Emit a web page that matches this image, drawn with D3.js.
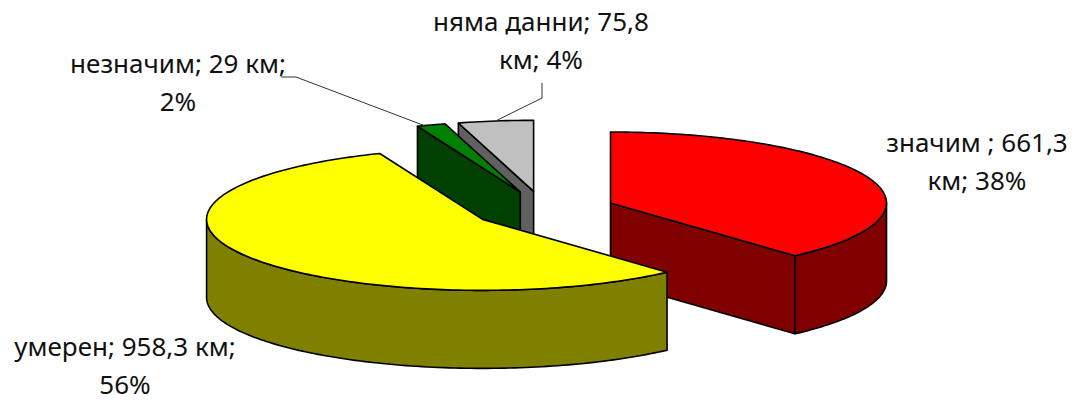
<!DOCTYPE html>
<html>
<head>
<meta charset="utf-8">
<script src="https://cdn.jsdelivr.net/npm/d3@7"></script>
<style>
  body { margin: 0; background: #fff; }
  .lbl { font-family: "Noto Sans", sans-serif; font-size: 26px; fill: #111; }
</style>
</head>
<body>
<div id="chart"></div>
<script>

// data
const categories = ["значим", "умерен", "незначим", "няма данни"];
const lengthsKm = [661.3, 958.3, 29, 75.8];
const labelLine1 = ["значим ; 661,3", "умерен; 958,3 км;", "незначим; 29 км;", "няма данни; 75,8"];
const labelLine2 = ["км; 38%", "56%", "2%", "км; 4%"];
const topColors = ["#ff0000", "#ffff00", "#008000", "#c0c0c0"];
const sideColors = ["#800000", "#808000", "#004000", "#606060"];

const width = 1076;
const height = 403;

const svg = d3.select("#chart")
  .append("svg")
  .attr("width", width)
  .attr("height", height);

/* pie geometry (tilted, exploded 3d pie) */
const center = {x: 543.5, y: 209.6};
const rx = 276, ry = 71, depth = 78, explode = 0.26;

const ex = d3.scaleLinear().domain([-1, 1]).range([-rx, rx]);
const ey = d3.scaleLinear().domain([-1, 1]).range([-ry, ry]);

const pie = d3.pie().sort(null).value(d => d);
const arcs = pie(lengthsKm);

function pt(c, a, dy) {
  return [c.x + ex(Math.sin(a)), c.y + ey(-Math.cos(a)) + (dy || 0)];
}
function arcPts(c, a0, a1, dy) {
  const n = Math.max(2, Math.ceil(Math.abs(a1 - a0) / 0.02));
  return d3.range(n + 1).map(k => pt(c, a0 + (a1 - a0) * k / n, dy));
}

const poly = d3.line().curve(d3.curveLinearClosed);

const slices = arcs.map((d, i) => {
  const mid = (d.startAngle + d.endAngle) / 2;
  const c = {
    x: center.x + explode * ex(Math.sin(mid)),
    y: center.y + explode * ey(-Math.cos(mid))
  };
  return {i: i, a0: d.startAngle, a1: d.endAngle, mid: mid, c: c};
});

// back slices first
const order = slices.slice().sort((a, b) => a.c.y - b.c.y);

order.forEach(s => {
  const g = svg.append("g");
  const c = s.c;
  const cb = [c.x, c.y + depth];
  const faces = [];

  if (Math.sin(s.a0) < -1e-6) {
    faces.push([[c.x, c.y], pt(c, s.a0), pt(c, s.a0, depth), cb]);
  }
  if (Math.sin(s.a1) > 1e-6) {
    faces.push([[c.x, c.y], pt(c, s.a1), pt(c, s.a1, depth), cb]);
  }
  const lo = Math.max(s.a0, Math.PI / 2);
  const hi = Math.min(s.a1, Math.PI * 1.5);
  if (hi > lo) {
    faces.push(arcPts(c, lo, hi, 0).concat(arcPts(c, hi, lo, depth)));
  }

  g.selectAll("path.side")
    .data(faces)
    .enter()
    .append("path")
    .attr("class", "side")
    .attr("d", poly)
    .attr("fill", sideColors[s.i])
    .attr("stroke", "#000")
    .attr("stroke-width", 1.6)
    .attr("stroke-linejoin", "round");

  g.append("path")
    .attr("d", poly([[c.x, c.y]].concat(arcPts(c, s.a0, s.a1, 0))))
    .attr("fill", topColors[s.i])
    .attr("stroke", "#000")
    .attr("stroke-width", 1.6)
    .attr("stroke-linejoin", "round");
});

/* labels */
const labelPos = [
  {x: 977, y: 152},
  {x: 125, y: 356},
  {x: 178, y: 73},
  {x: 541, y: 31}
];
const lineGap = 38;

categories.forEach((cat, i) => {
  svg.append("text")
    .attr("class", "lbl")
    .attr("x", labelPos[i].x)
    .attr("y", labelPos[i].y)
    .attr("text-anchor", "middle")
    .text(labelLine1[i]);
  svg.append("text")
    .attr("class", "lbl")
    .attr("x", labelPos[i].x)
    .attr("y", labelPos[i].y + lineGap)
    .attr("text-anchor", "middle")
    .text(labelLine2[i]);
});

/* leader lines for the two thin slices */
const leaders = [
  {i: 2, t: 0.25, path: [[281, 77], [296, 77]]},
  {i: 3, t: 0.5, path: [[542, 83], [542, 98]]}
];
leaders.forEach(l => {
  const s = slices[l.i];
  const end = pt(s.c, s.a0 + (s.a1 - s.a0) * l.t);
  svg.append("path")
    .attr("d", d3.line()(l.path.concat([end])))
    .attr("fill", "none")
    .attr("stroke", "#333")
    .attr("stroke-width", 1);
});

</script>
</body>
</html>
